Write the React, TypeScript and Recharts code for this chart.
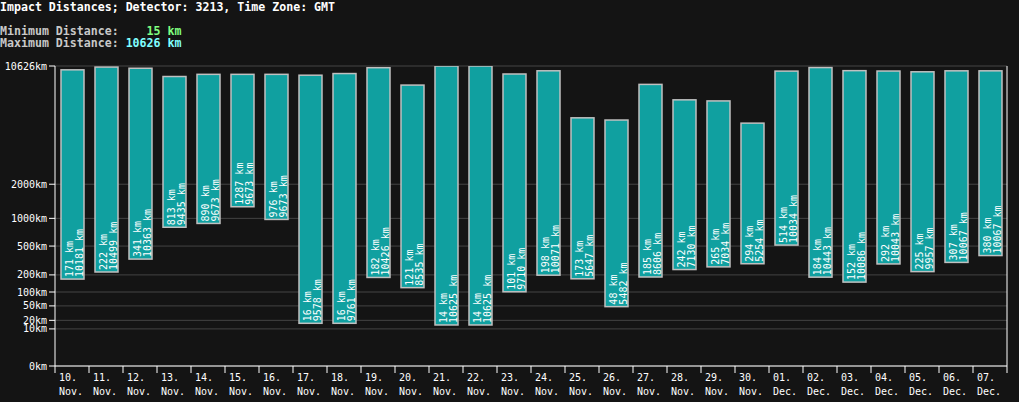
import React from 'react';
import { BarChart, Bar, XAxis, YAxis, CartesianGrid } from 'recharts';

// day labels (two-line ticks)
const days = [
  '10.', '11.', '12.', '13.', '14.', '15.', '16.', '17.', '18.', '19.', '20.', '21.', '22.', '23.',
  '24.', '25.', '26.', '27.', '28.', '29.', '30.', '01.', '02.', '03.', '04.', '05.', '06.', '07.',
];
const months = [
  'Nov.', 'Nov.', 'Nov.', 'Nov.', 'Nov.', 'Nov.', 'Nov.', 'Nov.', 'Nov.', 'Nov.', 'Nov.', 'Nov.', 'Nov.', 'Nov.',
  'Nov.', 'Nov.', 'Nov.', 'Nov.', 'Nov.', 'Nov.', 'Nov.', 'Dec.', 'Dec.', 'Dec.', 'Dec.', 'Dec.', 'Dec.', 'Dec.',
];

// impact distances in km
const minKm = [171, 222, 341, 813, 890, 1287, 976, 16, 16, 182, 121, 14, 14, 101, 198, 173, 48, 185, 242, 265, 294, 514, 184, 152, 292, 225, 307, 380];
const maxKm = [10181, 10499, 10363, 9435, 9673, 9673, 9673, 9578, 9761, 10426, 8535, 10625, 10625, 9710, 10071, 5647, 5482, 8606, 7130, 7034, 5254, 10034, 10443, 10086, 10043, 9957, 10067, 10067];

const yTicksKm = [0, 10, 20, 50, 100, 200, 500, 1000, 2000, 10626];

const W = 1019;
const H = 402;
const LEFT = 55;
const RIGHT = 1007;
const BAND = (RIGHT - LEFT) / days.length;
const FONT = '"DejaVu Sans Mono", "Liberation Mono", monospace';

// the axis is a power scale, so values are mapped before plotting
const EXP = 0.3;
const toAxis = (km: number) => Math.pow(km, EXP);
const fromAxis = (v: number) => Math.round(Math.pow(v, 1 / EXP));

const data = days.map((d, i) => ({
  day: d,
  month: months[i],
  range: [toAxis(minKm[i]), toAxis(maxKm[i])],
}));

const DayTick = (props: any) => {
  const { x, y, index } = props;
  const left = x - BAND / 2;
  return (
    <g>
      <line x1={left} y1={y} x2={left} y2={y + 7} stroke="#fff" />
      {index === days.length - 1 && <line x1={x + BAND / 2} y1={y} x2={x + BAND / 2} y2={y + 7} stroke="#fff" />}
      <text x={left + 4} y={y + 15} fill="#fff" fontSize={10} fontFamily={FONT}>{days[index]}</text>
      <text x={left + 4} y={y + 29} fill="#fff" fontSize={10} fontFamily={FONT}>{months[index]}</text>
    </g>
  );
};

const RangeBar = (props: any) => {
  const { x, y, width, height, index } = props;
  const cx = x + width / 2;
  const bottom = y + height - 2;
  return (
    <g>
      <rect x={x} y={y} width={width} height={height} fill="#10a0a0" stroke="#c0c0c0" strokeWidth={1.5} />
      <text x={cx + 0.5} y={bottom} transform={`rotate(-90 ${cx + 0.5} ${bottom})`} fill="#fff" fontSize={10} fontFamily={FONT}>
        {minKm[index]} km
      </text>
      <text x={cx + 11} y={bottom} transform={`rotate(-90 ${cx + 11} ${bottom})`} fill="#fff" fontSize={10} fontFamily={FONT}>
        {maxKm[index]} km
      </text>
    </g>
  );
};

export default function App() {
  const lineStyle: React.CSSProperties = { position: 'absolute', left: 0, whiteSpace: 'pre', fontFamily: FONT, fontWeight: 'bold', fontSize: 11.6, lineHeight: '13px' };
  return (
    <div style={{ position: 'fixed', left: 0, top: 0, width: W, height: H, background: '#141414', overflow: 'hidden' }}>
      <div style={{ ...lineStyle, top: 1, color: '#fff' }}>Impact Distances; Detector: 3213, Time Zone: GMT</div>
      <div style={{ ...lineStyle, top: 25, color: '#c8c8c8' }}>
        {'Minimum Distance: '}<span style={{ color: '#80ff80' }}>{'   15 km'}</span>
      </div>
      <div style={{ ...lineStyle, top: 37, color: '#c8c8c8' }}>
        {'Maximum Distance: '}<span style={{ color: '#80ffff' }}>{'10626 km'}</span>
      </div>
      <div style={{ position: 'absolute', left: 0, top: 0 }}>
        <BarChart width={W} height={H} data={data} margin={{ top: 66, right: W - RIGHT - 1, bottom: 0, left: 0 }} barSize={23}>
          <CartesianGrid horizontal vertical={false} stroke="#444" />
          <XAxis
            dataKey="day"
            interval={0}
            height={36}
            tickSize={0}
            tickMargin={0}
            tickLine={false}
            axisLine={{ stroke: '#fff' }}
            tick={<DayTick />}
          />
          <YAxis
            type="number"
            domain={[0, toAxis(10626)]}
            ticks={yTicksKm.map(toAxis)}
            interval={0}
            width={LEFT}
            tickSize={6}
            tickMargin={2}
            tickFormatter={(v: number) => `${fromAxis(v)}km`}
            tick={{ fill: '#fff', fontSize: 10, fontFamily: FONT }}
            stroke="#fff"
            allowDataOverflow
          />
          <YAxis yAxisId="right" orientation="right" width={1} tick={false} tickLine={false} stroke="#fff" />
          <Bar dataKey="range" isAnimationActive={false} shape={<RangeBar />} />
        </BarChart>
      </div>
    </div>
  );
}
